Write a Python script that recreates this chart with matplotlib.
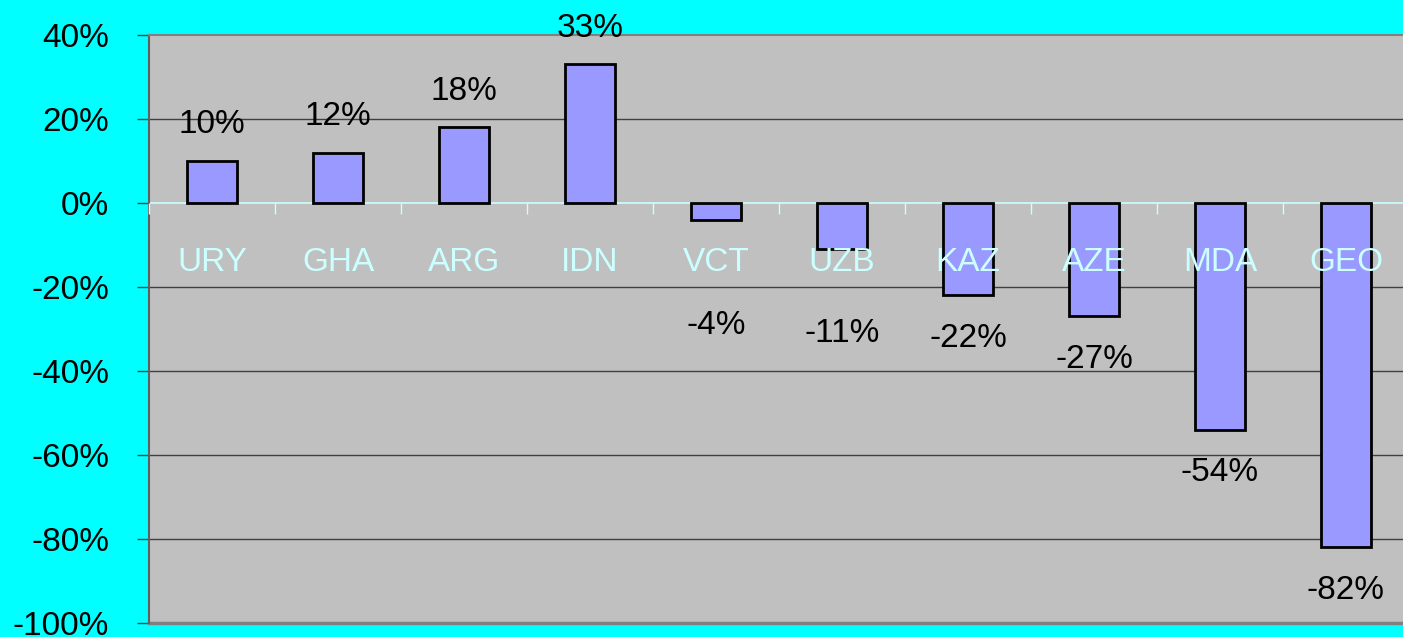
import matplotlib.pyplot as plt
import numpy as np

# values
COUNTRIES = ["URY", "GHA", "ARG", "IDN", "VCT", "UZB", "KAZ", "AZE", "MDA", "GEO"]
CHANGE_PCT = [10, 12, 18, 33, -4, -11, -22, -27, -54, -82]
Y_TICKS = [40, 20, 0, -20, -40, -60, -80, -100]
Y_TICK_LABELS = ["40%", "20%", "0%", "-20%", "-40%", "-60%", "-80%", "-100%"]

BG = "#00FFFF"
PLOT_BG = "#C0C0C0"
BAR = "#9999FF"
PALE = "#CCFFFF"
GRID = "#404040"

# extra push down for the small negative labels so they clear the category names
EXTRA_DROP = {"VCT": 45, "UZB": 30}


def main() -> None:
    plt.rcParams["font.family"] = ["Liberation Sans", "DejaVu Sans"]

    fig = plt.figure(figsize=(14.03, 6.37), dpi=100, facecolor=BG)
    W, H = 1403, 637
    left, right, top, bottom = 149, 1409, 35, 623
    ax = fig.add_axes([left / W, 1 - bottom / H, (right - left) / W, (bottom - top) / H])
    ax.set_facecolor(PLOT_BG)

    x = np.arange(len(COUNTRIES))
    ax.bar(x, CHANGE_PCT, width=0.4, color=BAR, edgecolor="black", linewidth=2, zorder=3)

    for xi, name, v in zip(x, COUNTRIES, CHANGE_PCT):
        if v >= 0:
            dy = 26
        else:
            dy = -31 - EXTRA_DROP.get(name, 0)
        ax.annotate(f"{v}%", (xi, v), xytext=(0, dy), textcoords="offset points",
                    ha="center", va="center", fontsize=24, color="black", zorder=5)

    ax.set_xlim(-0.5, len(COUNTRIES) - 0.5)
    ax.set_ylim(-100, 40)
    ax.set_yticks(Y_TICKS)
    ax.set_yticklabels(Y_TICK_LABELS)
    ax.tick_params(axis="y", direction="out", length=8.6, width=1, color=GRID,
                   pad=20, labelsize=24, labelcolor="black")

    ax.set_xticks(x)
    ax.set_xticklabels(COUNTRIES)
    ax.set_xticks(np.arange(len(COUNTRIES) + 1) - 0.5, minor=True)
    ax.tick_params(axis="x", which="major", length=0, pad=32, labelsize=24, labelcolor=PALE)
    ax.tick_params(axis="x", which="minor", direction="out", length=8, width=1, color=PALE)
    ax.xaxis.set_zorder(4)

    ax.spines["bottom"].set_position(("data", 0))
    ax.spines["bottom"].set_color(PALE)
    ax.spines["bottom"].set_linewidth(1.2)
    ax.spines["bottom"].set_zorder(2)
    ax.spines["left"].set_color("#606060")
    ax.spines["left"].set_linewidth(1.5)
    ax.spines["top"].set_color("#808080")
    ax.spines["top"].set_linewidth(1.5)
    ax.spines["right"].set_visible(False)

    for t in Y_TICKS:
        if t not in (0, 40):
            ax.axhline(t, color=GRID, linewidth=1, zorder=1)
    ax.axhline(-100, color="#808080", linewidth=2.5, zorder=2, clip_on=False)

    fig.savefig("out.png", dpi=100, facecolor=BG)


if __name__ == "__main__":
    main()
